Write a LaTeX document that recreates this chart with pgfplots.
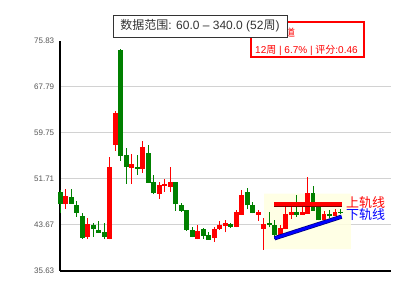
\documentclass[border=0pt]{standalone}
\usepackage{fontspec}
\setmainfont{Liberation Sans}
\newfontfamily\cjk{Noto Sans CJK SC}
\usepackage{pgfplots}
\pgfplotsset{compat=1.18}
\usetikzlibrary{calc}
\definecolor{cred}{RGB}{255,0,0}
\definecolor{cgreen}{RGB}{0,128,0}
\definecolor{cblue}{RGB}{0,0,255}
\definecolor{cnavy}{RGB}{0,0,120}
\definecolor{cdarkred}{RGB}{120,0,0}
\definecolor{ltyellow}{RGB}{255,255,224}
\definecolor{gridgray}{RGB}{210,210,210}
\definecolor{ticktext}{RGB}{85,85,85}
\definecolor{titletext}{RGB}{51,51,51}
\begin{document}
\begin{tikzpicture}[x=1pt,y=1pt]
\begin{axis}[
  scale only axis,
  width=330.3pt, height=230pt,
  xmin=0, xmax=60.14, ymin=35.63, ymax=75.83,
  clip=false,
  axis x line*=bottom, axis y line*=left,
  axis line style={line width=2pt, black, -},
  xtick=\empty,
  ytick={43.67,51.71,59.75,67.79},
  yticklabels={43.67,51.71,59.75,67.79},
  extra y ticks={35.63,75.83},
  extra y tick labels={35.63,75.83},
  extra y tick style={grid=none},
  ymajorgrids, grid style={gridgray, line width=0.8pt},
  major tick length=0pt,
  yticklabel style={font=\fontsize{8}{9}\selectfont, text=ticktext, inner sep=0pt, xshift=-6pt},
  unbounded coords=jump,
]
\coordinate (O) at (rel axis cs:0,0);
% highlight zone
\addplot[draw=none, fill=ltyellow, fill opacity=0.85, forget plot] coordinates {(37.1,39.42) (52.9,39.42) (52.9,49.09) (37.1,49.09) (37.1,39.42)};
% green wicks (low, high)
\addplot[cgreen, line width=1pt, forget plot] coordinates {
(0,45.77) (0,49.74) (0,nan)
(2,47.34) (2,49.91) (2,nan)
(3,45.07) (3,47.82) (3,nan)
(4,41.22) (4,45.72) (4,nan)
(6,41.57) (6,43.97) (6,nan)
(7,42.27) (7,44.32) (7,nan)
(8,41.12) (8,43.97) (8,nan)
(11,54.86) (11,74.44) (11,nan)
(12,50.79) (12,57.03) (12,nan)
(14,52.36) (14,55.86) (14,nan)
(16,51.01) (16,57.61) (16,nan)
(17,48.99) (17,52.41) (17,nan)
(21,46.12) (21,51.14) (21,nan)
(22,45.94) (22,47.52) (22,nan)
(23,42.62) (23,46.24) (23,nan)
(24,41.47) (24,43.22) (24,nan)
(26,41.17) (26,43.10) (26,nan)
(27,41.00) (27,42.40) (27,nan)
(31,43.15) (31,43.92) (31,nan)
(34,46.36) (34,50.14) (34,nan)
(35,45.66) (35,47.69) (35,nan)
(38,43.22) (38,45.94) (38,nan)
(39,41.22) (39,44.44) (39,nan)
(43,45.07) (43,48.86) (43,nan)
(46,46.07) (46,50.44) (46,nan)
(47,44.44) (47,47.20) (47,nan)
(49,44.84) (49,46.24) (49,nan)
(51,45.54) (51,46.47)
};
% green bodies (close, open)
\addplot[cgreen, line width=4.9pt, forget plot] coordinates {
(0,47.34) (0,49.34) (0,nan)
(2,47.34) (2,48.52) (2,nan)
(3,45.77) (3,47.12) (3,nan)
(4,41.40) (4,45.19) (4,nan)
(6,42.87) (6,43.67) (6,nan)
(7,42.27) (7,42.80) (7,nan)
(8,41.52) (8,42.40) (8,nan)
(11,55.68) (11,74.21) (11,nan)
(12,53.81) (12,55.86) (12,nan)
(14,53.41) (14,53.71) (14,nan)
(16,51.01) (16,56.21) (16,nan)
(17,49.16) (17,51.14) (17,nan)
(21,47.24) (21,51.14) (21,nan)
(22,46.12) (22,47.12) (22,nan)
(23,42.75) (23,46.24) (23,nan)
(24,41.57) (24,42.75) (24,nan)
(26,41.75) (26,42.92) (26,nan)
(27,41.05) (27,41.82) (27,nan)
(31,43.32) (31,43.79) (31,nan)
(34,47.06) (34,49.39) (34,nan)
(35,45.77) (35,47.12) (35,nan)
(38,43.67) (38,43.97) (38,nan)
(39,41.87) (39,43.57) (39,nan)
(43,45.42) (43,45.89) (43,nan)
(46,46.07) (46,49.27) (46,nan)
(47,44.44) (47,46.82) (47,nan)
(49,45.19) (49,45.54) (49,nan)
(51,45.72) (51,45.94)
};
% red wicks (low, high)
\addplot[cred, line width=1pt, forget plot] coordinates {
(1,46.47) (1,49.86) (1,nan)
(5,41.17) (5,44.79) (5,nan)
(9,41.12) (9,55.51) (9,nan)
(10,56.61) (10,63.60) (10,nan)
(13,50.74) (13,56.03) (13,nan)
(15,52.76) (15,58.36) (15,nan)
(18,48.22) (18,51.08) (18,nan)
(19,49.44) (19,51.66) (19,nan)
(20,49.44) (20,53.76) (20,nan)
(25,41.12) (25,43.62) (25,nan)
(28,40.70) (28,43.22) (28,nan)
(29,42.75) (29,44.32) (29,nan)
(30,42.34) (30,44.49) (30,nan)
(32,43.22) (32,46.24) (32,nan)
(33,45.37) (33,49.74) (33,nan)
(36,44.37) (36,46.24) (36,nan)
(37,39.25) (37,44.84) (37,nan)
(40,41.57) (40,43.62) (40,nan)
(41,42.87) (41,47.06) (41,nan)
(42,44.72) (42,47.52) (42,nan)
(44,45.42) (44,47.06) (44,nan)
(45,45.54) (45,51.96) (45,nan)
(48,44.27) (48,46.07) (48,nan)
(50,45.19) (50,46.42)
};
% red bodies (open, close)
\addplot[cred, line width=4.9pt, forget plot] coordinates {
(1,47.34) (1,48.69) (1,nan)
(5,41.57) (5,43.74) (5,nan)
(9,41.22) (9,53.76) (9,nan)
(10,57.61) (10,63.25) (10,nan)
(13,53.64) (13,54.28) (13,nan)
(15,53.41) (15,57.26) (15,nan)
(18,49.09) (18,50.61) (18,nan)
(19,50.44) (19,50.74) (19,nan)
(20,50.32) (20,51.14) (20,nan)
(25,41.22) (25,42.57) (25,nan)
(28,41.40) (28,42.87) (28,nan)
(29,42.87) (29,43.62) (29,nan)
(30,43.44) (30,44.02) (30,nan)
(32,43.32) (32,45.94) (32,nan)
(33,45.37) (33,48.86) (33,nan)
(36,45.37) (36,45.94) (36,nan)
(37,42.92) (37,43.79) (37,nan)
(40,41.87) (40,43.15) (40,nan)
(41,42.87) (41,45.54) (41,nan)
(42,45.42) (42,45.94) (42,nan)
(44,45.42) (44,45.84) (44,nan)
(45,45.54) (45,49.16) (45,nan)
(48,44.44) (48,45.54) (48,nan)
(50,45.19) (50,45.89)
};
% upper rail
\addplot[cdarkred, line width=1.5pt, forget plot] coordinates {(38.9,46.98) (51.2,46.98)};
\addplot[cred, line width=3.4pt, forget plot] coordinates {(38.9,47.29) (51.2,47.29)};
% lower rail
\addplot[cnavy, line width=4.2pt, forget plot] coordinates {(39.0,41.30) (51.2,45.07)};
\addplot[cblue, line width=2.8pt, forget plot] coordinates {(39.0,41.30) (51.2,45.07)};
\node[anchor=west, inner sep=0pt, text=cred, font=\cjk\fontsize{13}{13}\selectfont] at (axis cs:52.0,47.47) {上轨线};
\node[anchor=west, inner sep=0pt, text=cblue, font=\cjk\fontsize{13}{13}\selectfont] at (axis cs:52.0,45.37) {下轨线};
\end{axis}
\pgfresetboundingbox
\begin{scope}[shift={($(O)+(-60.4,-29.3)$)}]
\path[use as bounding box] (0,0) rectangle (400,300);
% info box
\draw[cred, line width=2.2pt, fill=white] (250.7,242.7) rectangle (364.3,278.3);
\node[anchor=west, inner sep=0pt, text=cred, font=\cjk\fontsize{10}{10}\selectfont] at (255,267) {上升通道};
\node[anchor=west, inner sep=0pt, text=cred, font=\fontsize{10}{10}\selectfont] at (255,250) {12{\cjk 周} | 6.7\% | {\cjk 评分}:0.46};
% title box
\node[draw=titletext, fill=white, line width=0.8pt, text=titletext, font=\fontsize{12}{12}\selectfont, minimum width=174pt, minimum height=22pt, inner sep=0pt] at (200,274) {{\cjk 数据范围}: 60.0 – 340.0 (52{\cjk 周})};
\end{scope}
\end{tikzpicture}
\end{document}
